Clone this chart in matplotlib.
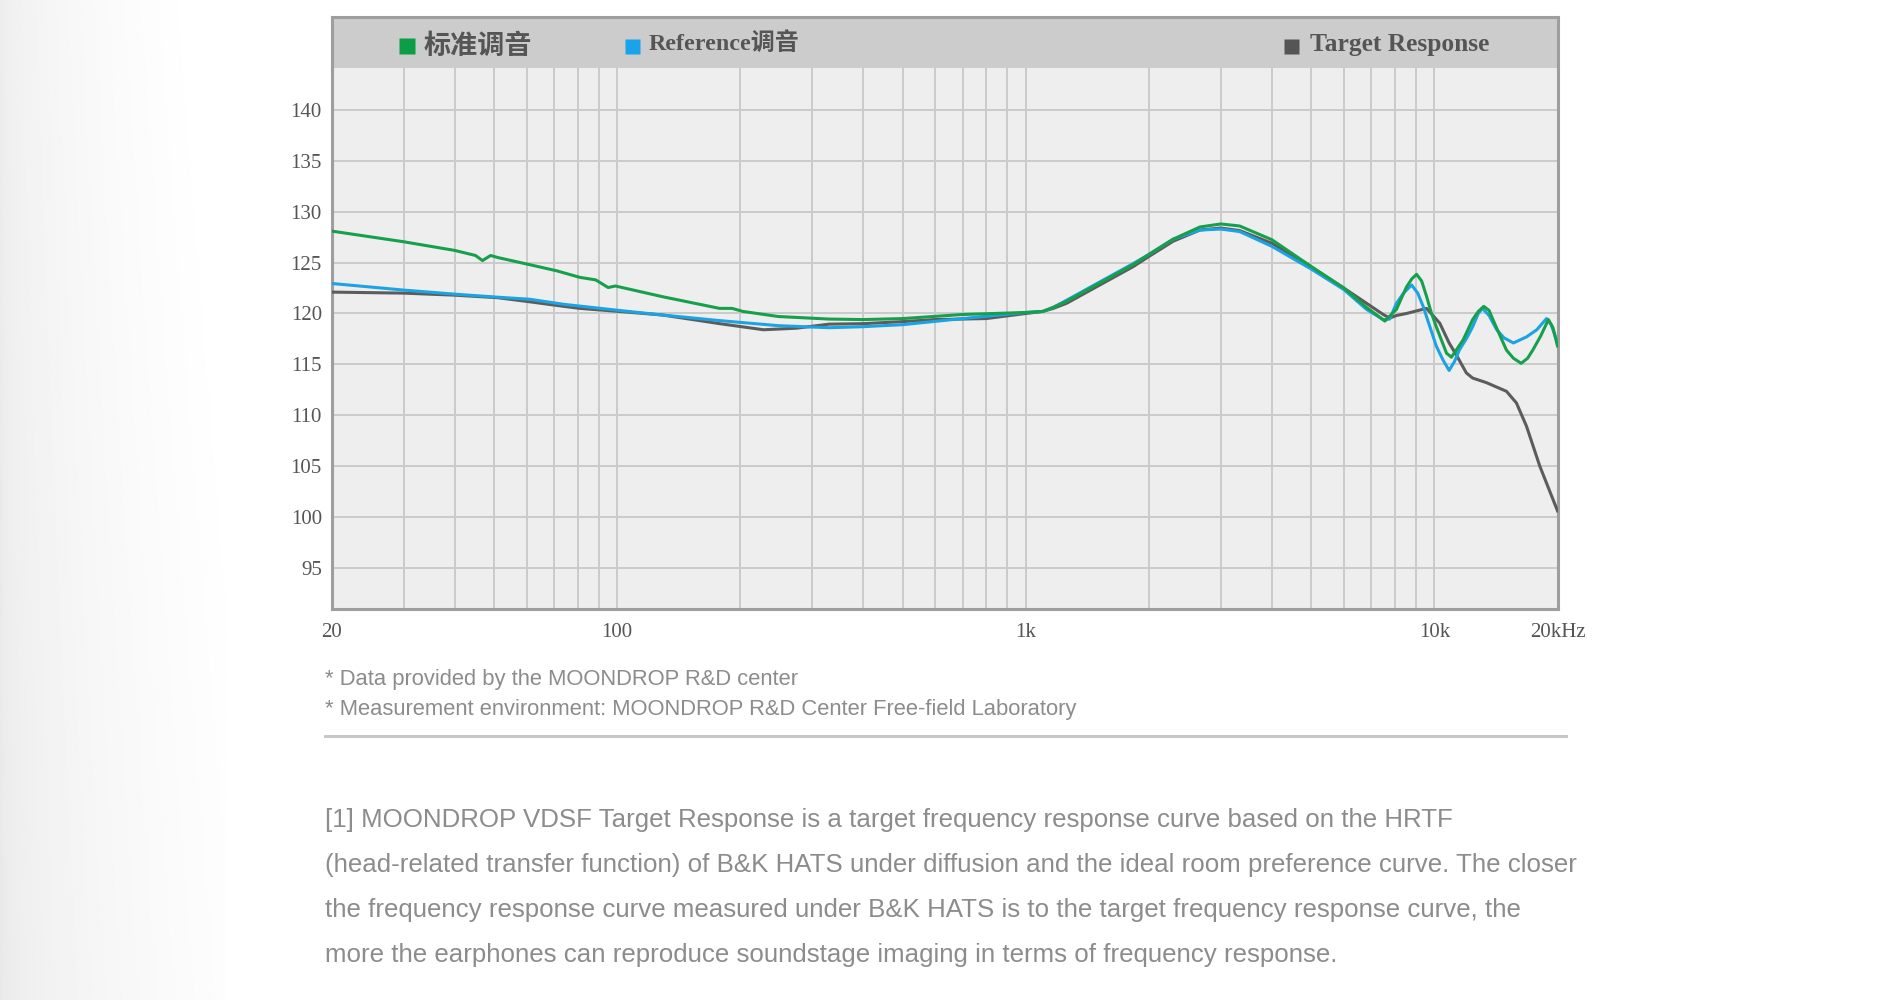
import numpy as np
import matplotlib
matplotlib.use("Agg")
import matplotlib.pyplot as plt
from matplotlib.ticker import LogLocator, NullFormatter

# ---- data ----
freq_std = [20, 30, 40, 45, 46.8, 49, 51, 61, 71, 81, 88.6, 95, 99, 129, 178, 191, 203, 248, 330,
            400, 500, 700, 1000, 1100, 1167, 1258, 1517, 1830, 2000, 2293, 2666, 3000, 3336, 4000,
            5000, 6000, 6820, 7560, 8070, 8300, 8540, 8800, 9040, 9300, 9560, 9800, 10100, 10700,
            11000, 11750, 12400, 12800, 13200, 13600, 13900, 14400, 15000, 15600, 16300, 16900,
            17400, 18200, 19000, 19500, 20000]
db_std = [128.1, 127.05, 126.2, 125.7, 125.2, 125.7, 125.5, 124.8, 124.2, 123.55, 123.3, 122.55, 122.7,
          121.65, 120.5, 120.5, 120.2, 119.7, 119.45, 119.4, 119.5, 119.9, 120.1, 120.2, 120.6, 121.2,
          123.0, 124.8, 125.8, 127.3, 128.5, 128.8, 128.6, 127.25, 124.6, 122.5, 120.6, 119.25, 120.4,
          121.5, 122.6, 123.4, 123.85, 123.2, 121.7, 120.2, 118.7, 116.1, 115.7, 117.4, 119.4, 120.2,
          120.7, 120.3, 119.4, 118.0, 116.4, 115.6, 115.1, 115.6, 116.4, 117.8, 119.4, 118.6, 116.8]

freq_ref = [20, 30, 40, 51, 61, 74, 101, 129, 178, 248, 330, 400, 500, 700, 1000, 1100, 1167, 1258,
            1517, 1830, 2000, 2293, 2666, 3000, 3336, 4000, 5000, 6000, 6820, 7490, 7770, 8070, 8400,
            8790, 9100, 9380, 10100, 10500, 10860, 11200, 11500, 12000, 12400, 12800, 13100, 13600,
            14200, 14800, 15600, 16800, 17800, 18800, 19300, 20000]
db_ref = [122.95, 122.3, 121.9, 121.6, 121.4, 120.9, 120.3, 119.85, 119.3, 118.8, 118.6, 118.7, 118.9,
          119.5, 120.1, 120.2, 120.6, 121.3, 123.1, 124.9, 125.8, 127.3, 128.2, 128.3, 128.05, 126.6,
          124.35, 122.35, 120.4, 119.4, 119.45, 121.0, 122.0, 122.8, 122.0, 120.7, 116.8, 115.4, 114.4,
          115.3, 116.4, 117.6, 118.7, 120.0, 120.5, 119.8, 118.4, 117.6, 117.1, 117.7, 118.4, 119.5,
          118.9, 117.1]

freq_tgt = [20, 30, 40, 51, 61, 74, 81, 101, 129, 178, 228, 274, 330, 400, 500, 600, 800, 1000, 1100,
            1167, 1258, 1517, 1830, 2000, 2293, 2666, 3000, 3336, 4000, 5000, 6000, 6820, 7490, 7770,
            8070, 8540, 9560, 10300, 10860, 11300, 11970, 12400, 13400, 15000, 15870, 16800, 18100, 20000]
db_tgt = [122.1, 122.0, 121.8, 121.55, 121.15, 120.7, 120.5, 120.2, 119.85, 119.0, 118.4, 118.55, 118.95,
          119.0, 119.2, 119.4, 119.5, 120.0, 120.2, 120.5, 121.0, 122.8, 124.6, 125.6, 127.1, 128.2, 128.4,
          128.15, 126.9, 124.55, 122.5, 121.0, 119.9, 119.55, 119.8, 120.0, 120.5, 119.05, 117.1, 115.95,
          114.15, 113.65, 113.2, 112.35, 111.2, 108.9, 105.0, 100.6]

series_names = ['标准调音', 'Reference调音', 'Target Response']
series_colors = ['#17a04c', '#1ca3e3', '#5c5c5c']
key_colors = ['#0b9e45', '#18a3ea', '#555555']

yticks = [95, 100, 105, 110, 115, 120, 125, 130, 135, 140]
xticks = [20, 100, 1000, 10000, 20000]
xticklabels = ['20', '100', '1k', '10k', '20kHz']

notes = ['* Data provided by the MOONDROP R&D center',
         '* Measurement environment: MOONDROP R&D Center Free-field Laboratory']
paragraph = ['[1] MOONDROP VDSF Target Response is a target frequency response curve based on the HRTF',
             '(head-related transfer function) of B&K HATS under diffusion and the ideal room preference curve. The closer',
             'the frequency response curve measured under B&K HATS is to the target frequency response curve, the',
             'more the earphones can reproduce soundstage imaging in terms of frequency response.']

W, H = 1900, 1000
fig = plt.figure(figsize=(19, 10), dpi=100, facecolor='white')

# soft shadow on the left edge
bg = fig.add_axes([0, 0, 225 / W, 1], zorder=-5)
gx = np.linspace(0, 1, 200)
gy = np.linspace(0, 1, 100)
shade = 0.91 + 0.08 * np.sqrt(gx)[None, :] + 0.015 * gy[:, None]
bg.imshow(shade, cmap='gray', vmin=0, vmax=1, aspect='auto', extent=[0, 1, 0, 1], origin='lower')
bg.axis('off')

# main plot area
x0, x1 = 331.6, 1557.5
ytop, ybot = 68.3, 609
ax = fig.add_axes([x0 / W, 1 - ybot / H, (x1 - x0) / W, (ybot - ytop) / H])
ax.set_facecolor('#eeeeee')
ax.set_xscale('log')
ax.set_xlim(20, 20000)
ax.set_ylim(90.95, 144.1)

lw = 2.2
ax.plot(freq_tgt, db_tgt, color=series_colors[2], lw=lw, zorder=3, solid_joinstyle='round')
ax.plot(freq_ref, db_ref, color=series_colors[1], lw=lw, zorder=4, solid_joinstyle='round')
ax.plot(freq_std, db_std, color=series_colors[0], lw=lw, zorder=5, solid_joinstyle='round')

ax.set_xticks(xticks)
ax.set_xticklabels(xticklabels)
ax.xaxis.set_minor_locator(LogLocator(base=10, subs=np.arange(2, 10)))
ax.xaxis.set_minor_formatter(NullFormatter())
ax.set_yticks(yticks)
ax.grid(which='both', axis='both', color='#cbcbcb', lw=1.4)
ax.set_axisbelow(True)
ax.tick_params(which='both', length=0)
ax.tick_params(axis='y', pad=7, labelsize=15, labelcolor='#555555')
ax.tick_params(axis='x', pad=10, labelsize=15, labelcolor='#555555')
for lab in ax.get_xticklabels() + ax.get_yticklabels():
    lab.set_fontfamily('Liberation Serif')
for s in ax.spines.values():
    s.set_color('#9e9e9e')
    s.set_linewidth(2.2)
ax.spines['top'].set_visible(False)

# header band with the keys
hd = fig.add_axes([x0 / W, 1 - ytop / H, (x1 - x0) / W, (ytop - 16.7) / H])
hd.set_facecolor('#cccccc')
hd.set_xlim(0, 1)
hd.set_ylim(0, 1)
hd.set_xticks([])
hd.set_yticks([])
for s in hd.spines.values():
    s.set_color('#9e9e9e')
    s.set_linewidth(2.2)
hd.spines['bottom'].set_visible(False)

key_x = [0.0611, 0.245, 0.783]
text_x = [0.0754, 0.259, 0.7977]
key_size = [11.3, 10.8, 10.8]
text_kw = [dict(fontsize=19.5, family=['Noto Sans CJK SC'], fontweight='bold', y=0.44),
           dict(fontsize=17.3, family=['Liberation Serif', 'Noto Sans CJK SC'], fontweight='bold', y=0.47),
           dict(fontsize=18.4, family=['Liberation Serif'], fontweight='bold', y=0.47)]
for i, name in enumerate(series_names):
    hd.plot([key_x[i]], [0.44], marker='s', ms=key_size[i], color=key_colors[i], mec='none')
    kw = dict(text_kw[i])
    yy = kw.pop('y')
    hd.text(text_x[i], yy, name, ha='left', va='center', color='#555555', **kw)

# notes under the chart
for i, t in enumerate(notes):
    fig.text(325 / W, 1 - (679 + 30 * i) / H, t, ha='left', va='center', fontsize=15.8,
             family=['Liberation Sans'], color='#8c8c8c')
fig.add_artist(plt.Line2D([325 / W, 1566 / W], [1 - 736 / H, 1 - 736 / H], color='#c8c8c8', lw=2.2))
for i, t in enumerate(paragraph):
    fig.text(325 / W, 1 - (820 + 45 * i) / H, t, ha='left', va='center', fontsize=18.6,
             family=['Liberation Sans'], color='#8c8c8c')

fig.savefig('out.png', dpi=100, facecolor='white')
